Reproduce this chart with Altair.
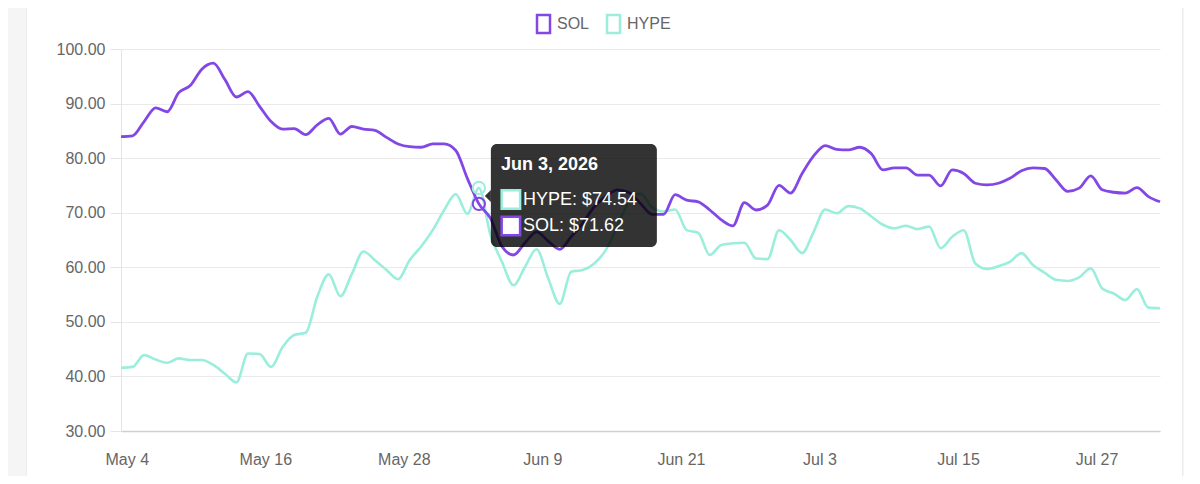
import altair as alt
import pandas as pd

# ---------------- data ----------------
first_day = "2026-05-03 12:00"
n_days = 91
series_names = ["SOL", "HYPE"]
series_colors = ["#8247e5", "#9aeedb"]

sol = [83.96, 84.1, 86.7, 89.2, 88.5, 92.0, 93.3, 96.3, 97.4, 94.4,
       91.2, 92.2, 89.5, 86.7, 85.3, 85.4, 84.3, 86.1, 87.3, 84.4,
       85.8, 85.3, 85.1, 83.8, 82.6, 82.1, 82.0, 82.6, 82.6, 81.4,
       76.3, 71.62, 69.0, 63.8, 62.25, 64.5, 66.5, 64.8, 63.3, 65.6,
       68.1, 71.1, 73.0, 74.2, 73.7, 71.7, 69.7, 69.7, 73.3, 72.3,
       72.0, 70.5, 68.7, 67.6, 71.85, 70.5, 71.4, 75.0, 73.6, 77.2,
       80.4, 82.3, 81.6, 81.5, 82.0, 80.8, 77.85, 78.2, 78.2, 76.9,
       76.9, 74.9, 77.85, 77.2, 75.4, 75.1, 75.4, 76.3, 77.7, 78.2,
       78.1, 76.0, 73.9, 74.5, 76.75, 74.2, 73.75, 73.6, 74.6, 72.95, 72.0]

hype = [41.6, 41.75, 43.9, 43.1, 42.5, 43.3, 43.0, 43.0, 42.1, 40.5,
        38.9, 44.2, 44.1, 41.75, 45.4, 47.6, 48.0, 54.6, 58.7, 54.7,
        58.8, 62.9, 61.3, 59.5, 57.8, 61.3, 63.8, 66.8, 70.5, 73.4,
        69.8, 74.54, 66.0, 61.0, 56.7, 60.1, 63.3, 58.0, 53.3, 59.2,
        59.5, 60.7, 63.2, 67.5, 72.0, 73.5, 71.0, 70.2, 70.6, 66.8,
        66.3, 62.25, 64.1, 64.4, 64.5, 61.6, 61.5, 66.8, 65.0, 62.6,
        66.5, 70.6, 69.9, 71.2, 70.8, 69.3, 67.8, 67.15, 67.6, 67.0,
        67.45, 63.5, 65.6, 66.8, 60.7, 59.7, 60.2, 61.0, 62.6, 60.4,
        59.0, 57.7, 57.5, 58.15, 59.8, 56.1, 55.2, 54.0, 56.0, 52.6, 52.5]

x_tick_days = [(5, 4), (5, 16), (5, 28), (6, 9), (6, 21), (7, 3), (7, 15), (7, 27)]
y_ticks = [30, 40, 50, 60, 70, 80, 90, 100]
hover_index = 31

FONT = "Liberation Sans"
LABEL = "#666666"
PAGE_GREY = "#f5f5f5"

# ---------------- tables ----------------
dates = pd.date_range(first_day, periods=n_days, freq="D")
df = pd.DataFrame({
    "date": list(dates) * 2,
    "series": ["SOL"] * n_days + ["HYPE"] * n_days,
    "price": sol + hype,
})
sol_df = df[df.series == "SOL"]
hype_df = df[df.series == "HYPE"]
hover_df = df[df.date == dates[hover_index]]

hd = dates[hover_index]
tip_df = pd.DataFrame({
    "date": [hd],
    "mid": [(sol[hover_index] + hype[hover_index]) / 2],
    "title": [hd.strftime("%b ") + str(hd.day) + hd.strftime(", %Y")],
    "hype_label": [f"HYPE: ${hype[hover_index]:.2f}"],
    "sol_label": [f"SOL: ${sol[hover_index]:.2f}"],
})

one = alt.Data(values=[{"k": 0}])

x_scale = alt.Scale(
    domain=[alt.DateTime(year=2026, month=5, date=3, hours=12),
            alt.DateTime(year=2026, month=8, date=1, hours=12)],
    nice=False,
)
y_scale = alt.Scale(domain=[30, 100], nice=False, zero=False)
color_scale = alt.Scale(domain=series_names, range=series_colors)

x_enc = alt.X(
    "date:T", scale=x_scale, title=None,
    axis=alt.Axis(
        values=[alt.DateTime(year=2026, month=m, date=d) for m, d in x_tick_days],
        format="%b %-d", grid=False, ticks=False, labelPadding=20,
        domainColor="#d0d0d0", domainWidth=1.5,
    ),
)
y_enc = alt.Y(
    "price:Q", scale=y_scale, title=None,
    axis=alt.Axis(values=y_ticks, format=".2f", tickSize=11, labelPadding=5,
                  tickColor="#e4e4e4", domainColor="#e4e4e4", gridColor="#eaeaea"),
)

# grey page strips outside the white card
strip_left = alt.Chart(one).mark_rect(fill=PAGE_GREY).encode(
    x=alt.value(-140), x2=alt.value(-94), y=alt.value(-60), y2=alt.value(460)
)
strip_left_edge = alt.Chart(one).mark_rect(fill="#ececec").encode(
    x=alt.value(-95), x2=alt.value(-94), y=alt.value(-60), y2=alt.value(460)
)
strip_right = alt.Chart(one).mark_rect(fill=PAGE_GREY).encode(
    x=alt.value(1061), x2=alt.value(1120), y=alt.value(-60), y2=alt.value(460)
)
strip_right_edge = alt.Chart(one).mark_rect(fill="#ececec").encode(
    x=alt.value(1061), x2=alt.value(1062), y=alt.value(-60), y2=alt.value(460)
)

line_hype = alt.Chart(hype_df).mark_line(interpolate="monotone", strokeWidth=2.6).encode(
    x=x_enc, y=y_enc, color=alt.Color("series:N", scale=color_scale, legend=None)
)
line_sol = alt.Chart(sol_df).mark_line(interpolate="monotone", strokeWidth=2.8).encode(
    x="date:T", y="price:Q", color=alt.Color("series:N", scale=color_scale, legend=None)
)

hover_pts = alt.Chart(hover_df).mark_point(filled=False, size=150, strokeWidth=2, opacity=1).encode(
    x="date:T", y="price:Q", color=alt.Color("series:N", scale=color_scale, legend=None)
)

# tooltip, anchored on the hovered date
tip_base = alt.Chart(tip_df)
tip_box = tip_base.mark_rect(
    color="black", opacity=0.8, cornerRadius=6,
    xOffset=12, x2Offset=178, yOffset=-52, y2Offset=51,
).encode(x="date:T", x2="date:T", y=alt.Y("mid:Q"), y2="mid:Q")
tip_caret = tip_base.mark_point(
    shape="M-0.5,0L0.5,-1L0.5,1Z", size=144, filled=True, color="black",
    opacity=0.8, strokeWidth=0, xOffset=9,
).encode(x="date:T", y="mid:Q")
tip_title = tip_base.mark_text(
    align="left", baseline="middle", dx=22, dy=-31, fontSize=18,
    fontWeight="bold", color="white", font=FONT,
).encode(x="date:T", y="mid:Q", text="title:N")
tip_sq_hype = tip_base.mark_square(
    fill="white", stroke=series_colors[1], strokeWidth=2.5, size=340,
    xOffset=32, yOffset=3.5, opacity=1,
).encode(x="date:T", y="mid:Q")
tip_sq_sol = tip_base.mark_square(
    fill="white", stroke=series_colors[0], strokeWidth=2.5, size=340,
    xOffset=32, yOffset=30, opacity=1,
).encode(x="date:T", y="mid:Q")
tip_txt_hype = tip_base.mark_text(
    align="left", baseline="middle", dx=44, dy=4, fontSize=18,
    color="white", font=FONT,
).encode(x="date:T", y="mid:Q", text="hype_label:N")
tip_txt_sol = tip_base.mark_text(
    align="left", baseline="middle", dx=44, dy=30, fontSize=18,
    color="white", font=FONT,
).encode(x="date:T", y="mid:Q", text="sol_label:N")

# legend (top centre)
leg_layers = []
leg_box_x = [416, 486]
leg_text_x = [436, 506]
for name, col, bx, tx in zip(series_names, series_colors, leg_box_x, leg_text_x):
    leg_layers.append(
        alt.Chart(one).mark_rect(fill="white", stroke=col, strokeWidth=2.5).encode(
            x=alt.value(bx), x2=alt.value(bx + 13), y=alt.value(-34), y2=alt.value(-16)
        )
    )
    leg_layers.append(
        alt.Chart(one).mark_text(align="left", baseline="middle", fontSize=16,
                                 color=LABEL, font=FONT).encode(
            x=alt.value(tx), y=alt.value(-25), text=alt.value(name)
        )
    )

chart = alt.layer(
    line_hype, line_sol, strip_left, strip_left_edge, strip_right, strip_right_edge,
    hover_pts,
    tip_box, tip_caret, tip_title, tip_sq_hype, tip_sq_sol, tip_txt_hype, tip_txt_sol,
    *leg_layers,
).properties(
    width=1039, height=382,
    autosize=alt.AutoSizeParams(type="none"),
    padding={"left": 113, "top": 41, "right": 24, "bottom": 45},
    background="white",
).configure_view(
    stroke=None
).configure_axis(
    labelFont=FONT, labelFontSize=16, labelColor=LABEL,
)

chart.save("out.html", embed_options={"renderer": "svg", "actions": False})
